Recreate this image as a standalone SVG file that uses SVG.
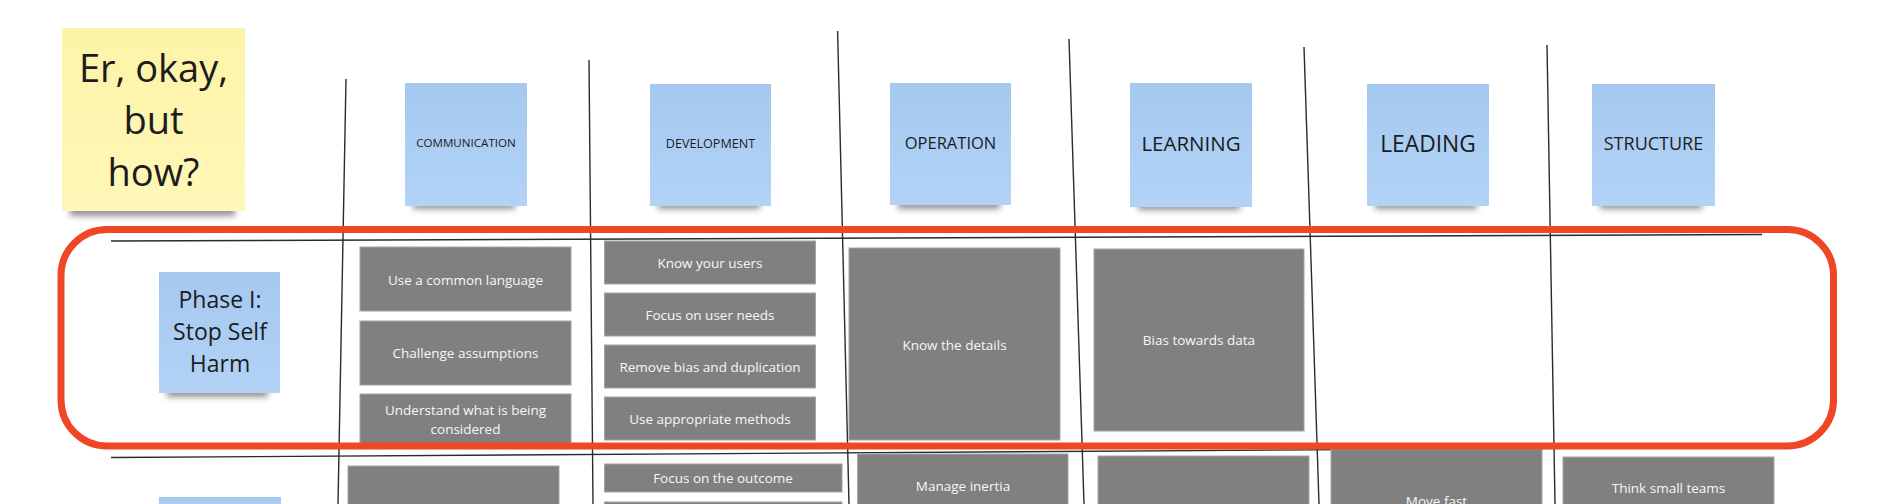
<svg xmlns="http://www.w3.org/2000/svg" width="1895" height="504" viewBox="0 0 1895 504">
<defs>
<linearGradient id="gBlue" x1="0" y1="0" x2="0" y2="1"><stop offset="0" stop-color="#a5c8f0"/><stop offset="1" stop-color="#b2d3f6"/></linearGradient>
<linearGradient id="gYellow" x1="0" y1="0" x2="0" y2="1"><stop offset="0" stop-color="#fdf3a8"/><stop offset="1" stop-color="#fff7b8"/></linearGradient>
<filter id="soft" x="-20%" y="-100%" width="140%" height="300%"><feGaussianBlur stdDeviation="3"/></filter>
</defs>
<style>
.note-blue{fill:url(#gBlue)}
.note-yellow{fill:url(#gYellow)}
.shadow{fill:#3a3a3a;opacity:.55;filter:url(#soft)}
.card{fill:#808080;stroke:#a3a3a3;stroke-width:1}
.card-text{font-family:"Open Sans","Noto Sans",sans-serif;font-size:13.5px;fill:#f7f7f7;text-anchor:middle}
.note-text{font-family:"Open Sans","Noto Sans",sans-serif;fill:#1c1c1c;text-anchor:middle}
.grid line{stroke:#2b2b2b;stroke-width:1.4}
.frame{fill:none;stroke:#ef4626;stroke-width:7}
</style>
<rect width="1895" height="504" fill="#ffffff"/>

<g id="connectors" class="grid">
<line x1="346" y1="79" x2="338" y2="504"/>
<line x1="589" y1="60" x2="593" y2="504"/>
<line x1="837.6" y1="31" x2="849" y2="504"/>
<line x1="1069" y1="39" x2="1084" y2="504"/>
<line x1="1304" y1="47" x2="1319" y2="504"/>
<line x1="1547" y1="45" x2="1555" y2="504"/>
<line x1="111" y1="241" x2="1762" y2="234.5"/>
<line x1="111" y1="457.5" x2="1762" y2="447"/>
</g>

<g id="title-note">
<rect class="shadow" x="70" y="204" width="165" height="12"/>
<rect class="note-yellow" x="62" y="28" width="183" height="183"/>
<text class="note-text" font-size="38" x="153.5" y="81.7">Er, okay,</text>
<text class="note-text" font-size="38" x="153.5" y="133.7">but</text>
<text class="note-text" font-size="38" x="153.5" y="185.7">how?</text>
</g>

<g id="header-communication">
<rect class="shadow" x="413" y="199" width="102" height="10"/>
<rect class="note-blue" x="405" y="83" width="122" height="123"/>
<text class="note-text" font-size="11.6" x="466" y="147">COMMUNICATION</text>
</g>
<g id="header-development">
<rect class="shadow" x="658" y="199" width="102" height="10"/>
<rect class="note-blue" x="650" y="84" width="121" height="122"/>
<text class="note-text" font-size="12.6" x="710.5" y="147.7">DEVELOPMENT</text>
</g>
<g id="header-operation">
<rect class="shadow" x="898" y="199" width="102" height="10"/>
<rect class="note-blue" x="890" y="83" width="121" height="122"/>
<text class="note-text" font-size="16.5" x="950.5" y="149">OPERATION</text>
</g>
<g id="header-learning">
<rect class="shadow" x="1138" y="200" width="102" height="10"/>
<rect class="note-blue" x="1130" y="83" width="122" height="124"/>
<text class="note-text" font-size="20.5" x="1191" y="150.7">LEARNING</text>
</g>
<g id="header-leading">
<rect class="shadow" x="1375" y="199" width="102" height="10"/>
<rect class="note-blue" x="1367" y="84" width="122" height="122"/>
<text class="note-text" font-size="22.8" x="1428" y="152.3">LEADING</text>
</g>
<g id="header-structure">
<rect class="shadow" x="1600" y="199" width="102" height="10"/>
<rect class="note-blue" x="1592" y="84" width="123" height="122"/>
<text class="note-text" font-size="18" x="1653.5" y="150">STRUCTURE</text>
</g>

<g id="phase-1">
<rect class="shadow" x="167" y="386" width="101" height="11"/>
<rect class="note-blue" x="159" y="272" width="121" height="121"/>
<text class="note-text" font-size="23" x="220" y="308">Phase I:</text>
<text class="note-text" font-size="23" x="220" y="340">Stop Self</text>
<text class="note-text" font-size="23" x="220" y="372">Harm</text>
</g>
<g id="phase-2">
<rect class="note-blue" x="159" y="497" width="122" height="20"/>
</g>

<g id="card-common-language"><rect class="card" x="360" y="247" width="211" height="64"/><text class="card-text" x="465.5" y="285">Use a common language</text></g>
<g id="card-challenge"><rect class="card" x="360" y="321" width="211" height="64"/><text class="card-text" x="465.5" y="358">Challenge assumptions</text></g>
<g id="card-understand"><rect class="card" x="360" y="394" width="211" height="52"/><text class="card-text" x="465.5" y="415">Understand what is being</text><text class="card-text" x="465.5" y="434">considered</text></g>

<g id="card-know-users"><rect class="card" x="604.5" y="241" width="211" height="43"/><text class="card-text" x="710" y="268">Know your users</text></g>
<g id="card-user-needs"><rect class="card" x="604.5" y="293" width="211" height="43"/><text class="card-text" x="710" y="320">Focus on user needs</text></g>
<g id="card-remove-bias"><rect class="card" x="604.5" y="345" width="211" height="43"/><text class="card-text" x="710" y="372">Remove bias and duplication</text></g>
<g id="card-methods"><rect class="card" x="604.5" y="397" width="211" height="43"/><text class="card-text" x="710" y="424">Use appropriate methods</text></g>

<g id="card-know-details"><rect class="card" x="849" y="248" width="211" height="192"/><text class="card-text" x="954.5" y="350">Know the details</text></g>
<g id="card-bias-data"><rect class="card" x="1094" y="249" width="210" height="182"/><text class="card-text" x="1199" y="345">Bias towards data</text></g>

<g id="card-comm-2"><rect class="card" x="348" y="466" width="211" height="50"/></g>
<g id="card-outcome"><rect class="card" x="604.5" y="464" width="237.5" height="28"/><text class="card-text" x="723" y="483">Focus on the outcome</text></g>
<g id="card-dev-2"><rect class="card" x="604.5" y="502" width="237.5" height="10"/></g>
<g id="card-inertia"><rect class="card" x="857.5" y="454" width="210.5" height="60"/><text class="card-text" x="963" y="491">Manage inertia</text></g>
<g id="card-learning-2"><rect class="card" x="1098" y="456" width="211" height="60"/></g>
<g id="card-move-fast"><rect class="card" x="1331" y="449" width="211" height="70"/><text class="card-text" x="1436.5" y="505.5">Move fast</text></g>
<g id="card-small-teams"><rect class="card" x="1563" y="457" width="211" height="60"/><text class="card-text" x="1668.5" y="493">Think small teams</text></g>

<g id="phase-1-frame">
<rect class="frame" x="61" y="229.5" width="1772.5" height="216.5" rx="46" ry="46"/>
</g>
</svg>
